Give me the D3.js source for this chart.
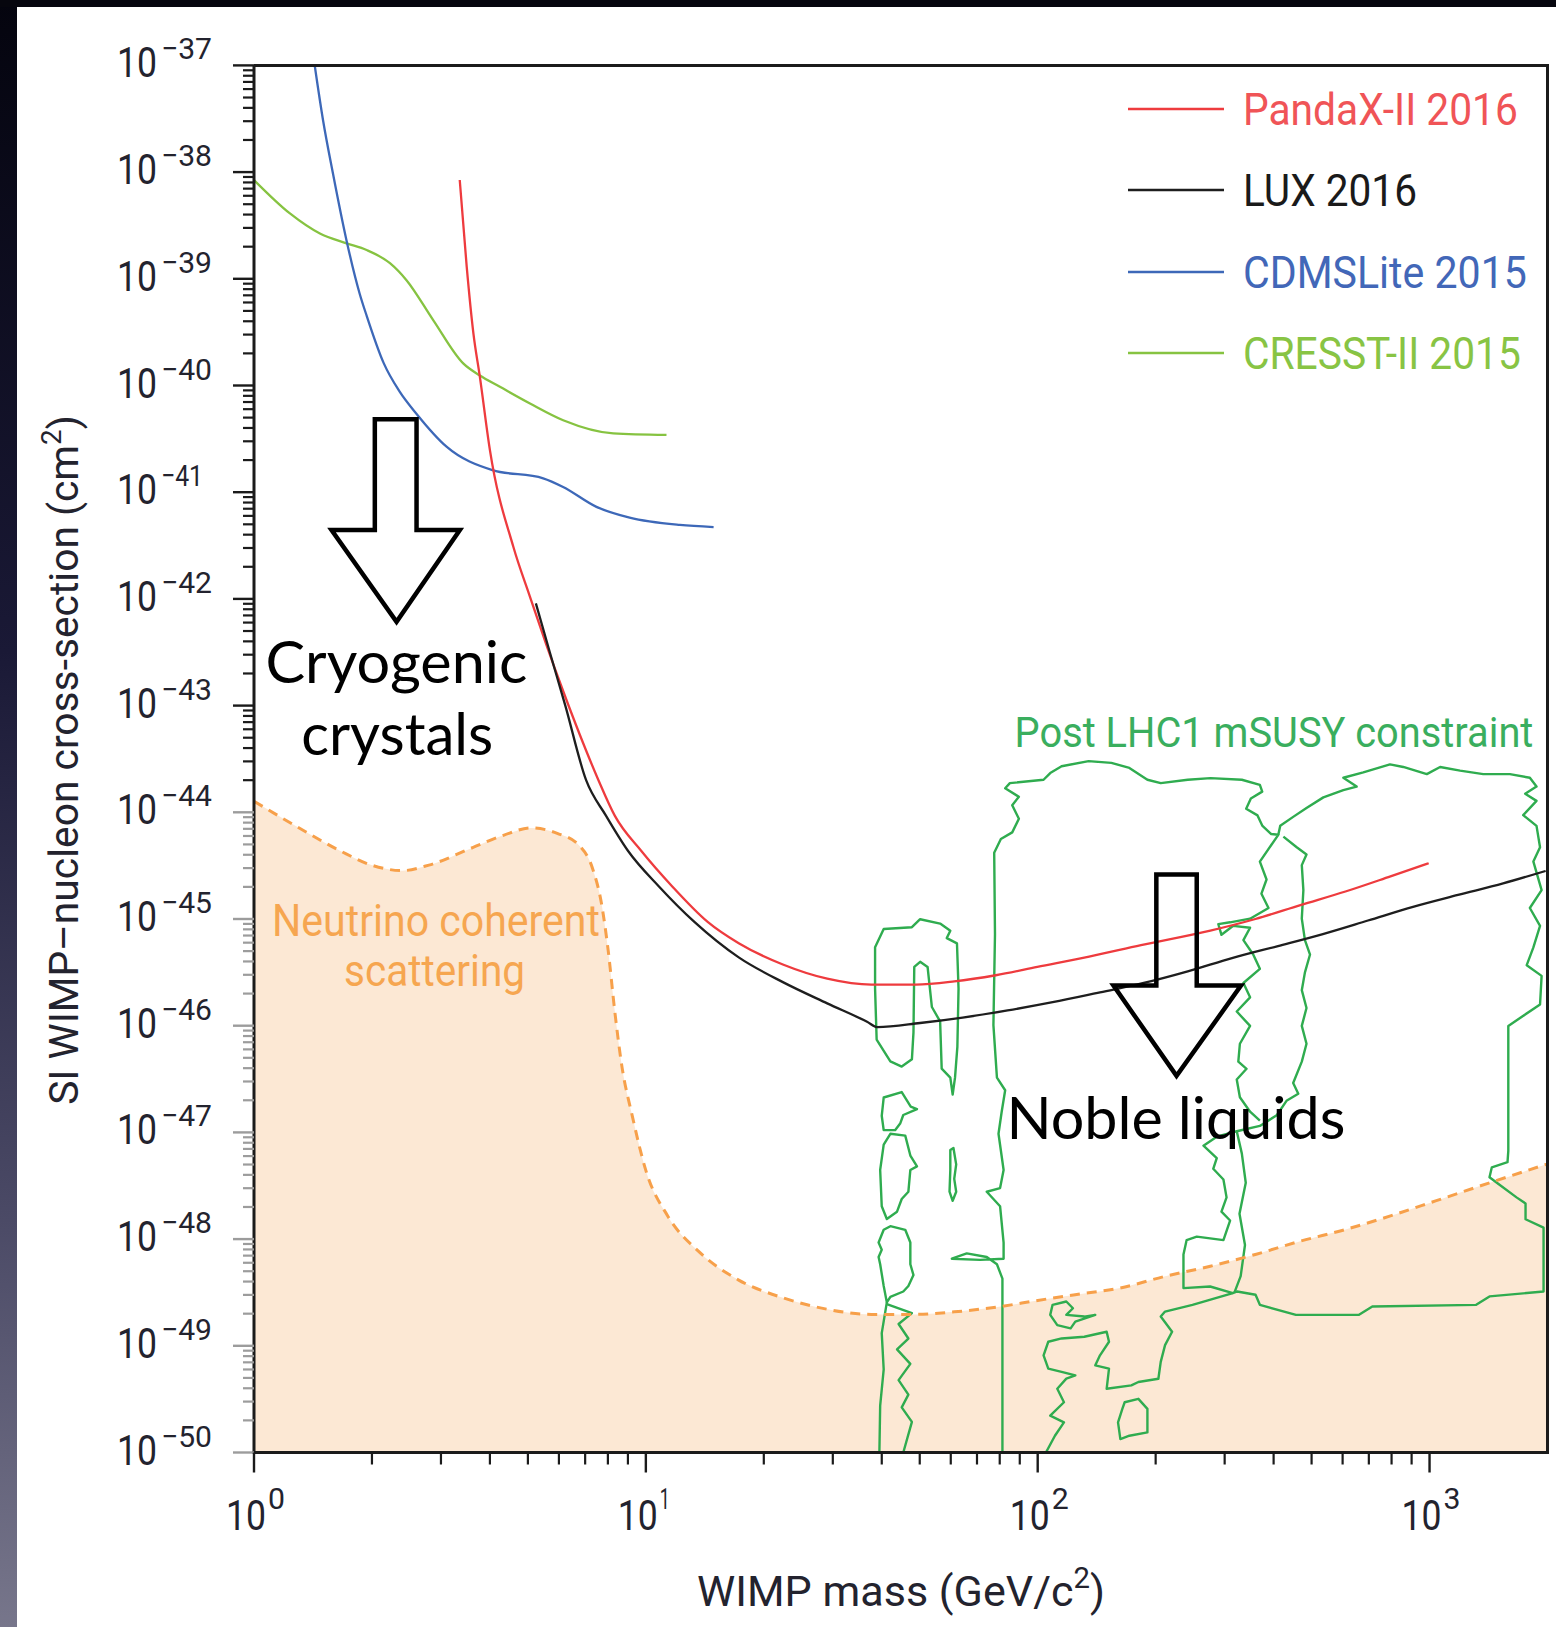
<!DOCTYPE html>
<html><head><meta charset="utf-8">
<script src="https://cdn.jsdelivr.net/npm/d3@7"></script>
<style>body{margin:0;background:#fff;}svg{display:block}</style>
</head><body>
<svg id="chart" width="1556" height="1627"></svg>
<script>
// ---------------- DATA (mass in GeV, cross-section in cm^2) ----------------
const pandaX2016 = [[3.35,8.43e-39],[3.49,1.30e-39],[3.63,3.08e-40],[3.77,1.21e-40],[4.00,2.48e-41],[4.59,3.08e-42],[5.06,1.05e-42],[5.58,3.67e-43],[6.15,1.37e-43],[6.78,5.36e-44],[7.57,2.00e-44],[8.33,9.31e-45],[9.74,4.34e-45],[11.68,2.02e-45],[14.38,9.40e-46],[17.26,5.93e-46],[22.37,3.75e-46],[29.03,2.76e-46],[37.64,2.43e-46],[48.83,2.43e-46],[61.25,2.60e-46],[78.17,2.97e-46],[99.8,3.56e-46],[135.3,4.45e-46],[183.5,5.69e-46],[275.8,7.78e-46],[359.4,1.00e-45],[468.2,1.35e-45],[610.1,1.81e-45],[794.9,2.51e-45],[995,3.33e-45]];
const lux2016 = [[5.24,9.08e-43],[5.68,3.21e-43],[6.23,1.00e-43],[7.04,2.00e-44],[7.91,9.31e-45],[9.01,4.34e-45],[10.80,2.02e-45],[13.30,9.40e-46],[17.26,4.37e-46],[22.37,2.56e-46],[29.03,1.62e-46],[36.69,1.09e-46],[39.0,9.70e-47],[50.1,1.06e-46],[64.33,1.19e-46],[83.8,1.39e-46],[109.2,1.66e-46],[142.2,2.03e-46],[185.3,2.50e-46],[241.5,3.23e-46],[314.8,4.33e-46],[410.3,5.58e-46],[534.3,7.23e-46],[696.4,9.68e-46],[907.5,1.30e-45],[1182,1.68e-45],[1541,2.16e-45],[1978,2.82e-45]];
const cdmsLite2015 = [[1.43,9.77e-38],[1.50,3.08e-38],[1.59,9.75e-39],[1.72,2.34e-39],[1.86,7.29e-40],[1.94,4.47e-40],[2.143,1.62e-40],[2.349,8.85e-41],[2.60,5.41e-41],[3.10,2.67e-41],[4.06,1.61e-41],[5.47,1.35e-41],[6.15,1.12e-41],[7.48,7.29e-42],[9.09,5.77e-42],[12.21,4.93e-42],[14.89,4.71e-42]];
const cresst2015 = [[1.0,8.43e-39],[1.235,4.10e-39],[1.473,2.66e-39],[1.723,2.15e-39],[1.938,1.86e-39],[2.223,1.40e-39],[2.45,9.70e-40],[2.866,4.10e-40],[3.419,1.61e-40],[3.771,1.24e-40],[4.242,9.73e-41],[5.062,6.79e-41],[6.152,4.73e-41],[8.258,3.56e-41],[11.29,3.44e-41]];
const neutrinoFloor = [[1.0,1.27e-44],[1.281,7.41e-45],[1.662,4.34e-45],[1.994,3.20e-45],[2.391,2.84e-45],[2.795,3.20e-45],[3.626,4.69e-45],[4.348,6.12e-45],[5.083,7.14e-45],[5.94,6.35e-45],[6.767,4.86e-45],[7.315,2.96e-45],[7.709,1.38e-45],[8.014,5.08e-46],[8.328,1.38e-46],[8.666,4.41e-47],[9.245,1.40e-47],[9.995,4.43e-48],[11.38,1.64e-48],[13.66,7.62e-49],[17.26,4.13e-49],[22.37,2.82e-49],[29.03,2.20e-49],[37.64,1.97e-49],[48.83,1.97e-49],[61.25,2.08e-49],[78.17,2.30e-49],[100,2.66e-49],[124.6,3.01e-49],[162.3,3.48e-49],[211.5,4.48e-49],[275.8,5.57e-49],[359.4,7.18e-49],[468.2,9.57e-49],[610.1,1.23e-48],[794.9,1.65e-48],[1036,2.28e-48],[1350,3.16e-48],[2000,5.06e-48]];

// Post-LHC1 mSUSY contours: [log10(mass/GeV), log10(cross-section/cm^2)]
const lhcBlobA = [[1.585,-45.264],[1.607,-45.094],[1.679,-45.077],[1.700,-45.002],[1.751,-45.043],[1.777,-45.111],[1.768,-45.179],[1.794,-45.229],[1.798,-45.653],[1.795,-46.198],[1.789,-46.487],[1.783,-46.645],[1.777,-46.487],[1.755,-46.402],[1.751,-45.960],[1.730,-45.825],[1.719,-45.449],[1.700,-45.401],[1.685,-45.449],[1.683,-46.062],[1.679,-46.315],[1.653,-46.383],[1.624,-46.334],[1.589,-46.130],[1.585,-45.653]];
const lhcBlobB1 = [[1.607,-46.673],[1.653,-46.622],[1.676,-46.758],[1.692,-46.781],[1.657,-46.837],[1.649,-46.917],[1.636,-46.979],[1.607,-46.979],[1.602,-46.844]];
const lhcBlobB2 = [[1.624,-47.013],[1.662,-47.030],[1.675,-47.217],[1.692,-47.318],[1.675,-47.352],[1.670,-47.556],[1.653,-47.624],[1.641,-47.743],[1.615,-47.811],[1.602,-47.692],[1.598,-47.352],[1.607,-47.115]];
const lhcBlobB3 = [[1.607,-47.913],[1.624,-47.879],[1.662,-47.913],[1.675,-48.032],[1.675,-48.236],[1.683,-48.337],[1.670,-48.439],[1.657,-48.491],[1.624,-48.541],[1.615,-48.593],[1.607,-48.439],[1.598,-48.236],[1.594,-48.168],[1.602,-48.100],[1.594,-48.032]];
const lhcDash = [[1.777,-47.165],[1.785,-47.146],[1.792,-47.300],[1.787,-47.435],[1.792,-47.556],[1.783,-47.641],[1.775,-47.556],[1.777,-47.352]];
const lhcLoopD1 = [[2.038,-48.616],[2.073,-48.585],[2.090,-48.648],[2.073,-48.710],[2.119,-48.726],[2.147,-48.710],[2.096,-48.773],[2.084,-48.837],[2.050,-48.806],[2.032,-48.710]];
const lhcLoopD3 = [[2.257,-49.497],[2.280,-49.591],[2.280,-49.812],[2.234,-49.843],[2.211,-49.874],[2.205,-49.718],[2.216,-49.591],[2.222,-49.529]];
const lhcStemLeft = [[1.615,-48.593],[1.602,-48.881],[1.607,-49.222],[1.598,-49.560],[1.596,-50.0]];
const lhcStemZigzag = [[1.615,-48.609],[1.679,-48.694],[1.645,-48.796],[1.670,-48.932],[1.641,-49.034],[1.675,-49.169],[1.645,-49.322],[1.670,-49.458],[1.653,-49.577],[1.679,-49.713],[1.657,-50.0]];
const lhcBandWest = [[1.910,-50.0],[1.910,-48.371],[1.896,-48.236],[1.870,-48.168],[1.819,-48.134],[1.781,-48.184],[1.853,-48.195],[1.913,-48.184],[1.913,-48.032],[1.904,-47.692],[1.870,-47.556],[1.904,-47.522],[1.913,-47.352],[1.900,-47.013],[1.908,-46.809],[1.917,-46.605],[1.896,-46.487],[1.887,-45.994],[1.891,-45.145],[1.889,-44.379],[1.906,-44.251],[1.935,-44.188],[1.952,-44.061],[1.935,-43.933],[1.952,-43.855],[1.917,-43.775],[1.929,-43.727],[2.015,-43.695],[2.032,-43.632],[2.061,-43.568],[2.130,-43.520],[2.188,-43.537],[2.234,-43.584],[2.280,-43.695],[2.314,-43.727],[2.383,-43.695],[2.441,-43.680],[2.521,-43.695],[2.567,-43.743],[2.573,-43.806],[2.544,-43.870],[2.532,-43.966],[2.561,-44.029],[2.573,-44.124],[2.596,-44.204],[2.614,-44.211],[2.567,-44.462],[2.584,-44.630],[2.571,-44.763],[2.589,-44.897],[2.542,-44.997],[2.491,-45.031],[2.461,-45.048],[2.469,-45.148],[2.499,-45.064],[2.542,-45.082],[2.525,-45.198],[2.550,-45.333],[2.567,-45.467],[2.525,-45.600],[2.542,-45.734],[2.508,-45.867],[2.542,-46.002],[2.516,-46.169],[2.512,-46.337],[2.533,-46.404],[2.508,-46.504],[2.516,-46.671],[2.542,-46.806],[2.567,-46.889]];
const lhcBandEast = [[2.614,-44.211],[2.619,-44.127],[2.652,-44.043],[2.686,-43.960],[2.729,-43.860],[2.780,-43.792],[2.814,-43.759],[2.780,-43.676],[2.831,-43.625],[2.899,-43.551],[2.933,-43.575],[2.993,-43.642],[3.027,-43.575],[3.078,-43.609],[3.137,-43.642],[3.205,-43.642],[3.256,-43.676],[3.273,-43.759],[3.244,-43.826],[3.273,-43.893],[3.239,-44.027],[3.273,-44.127],[3.282,-44.328],[3.265,-44.462],[3.286,-44.730],[3.256,-44.897],[3.282,-45.064],[3.265,-45.266],[3.248,-45.433],[3.286,-45.533],[3.282,-45.801],[3.201,-46.002],[3.201,-46.671],[3.201,-47.173],[3.199,-47.279],[3.159,-47.327],[3.153,-47.421],[3.176,-47.484],[3.222,-47.609],[3.245,-47.666],[3.245,-47.814],[3.291,-47.893],[3.291,-48.491],[3.153,-48.537],[3.119,-48.616],[2.854,-48.632],[2.820,-48.710],[2.659,-48.710],[2.567,-48.616],[2.556,-48.522],[2.509,-48.491],[2.498,-48.506],[2.395,-48.616],[2.325,-48.679],[2.314,-48.726],[2.343,-48.868],[2.325,-48.994],[2.314,-49.151],[2.308,-49.309],[2.257,-49.339],[2.239,-49.371],[2.176,-49.403],[2.182,-49.214],[2.147,-49.183],[2.159,-49.089],[2.182,-48.962],[2.176,-48.868],[2.119,-48.915],[2.061,-48.931],[2.027,-48.962],[2.015,-49.089],[2.027,-49.214],[2.061,-49.245],[2.096,-49.277],[2.073,-49.308],[2.050,-49.403],[2.067,-49.529],[2.032,-49.654],[2.067,-49.718],[2.044,-49.843],[2.021,-50.0]];
const lhcBandInner = [[2.627,-44.228],[2.661,-44.328],[2.686,-44.395],[2.674,-44.495],[2.678,-44.730],[2.674,-44.997],[2.682,-45.198],[2.695,-45.333],[2.682,-45.500],[2.674,-45.667],[2.686,-45.834],[2.674,-46.002],[2.686,-46.169],[2.674,-46.337],[2.652,-46.537],[2.665,-46.638],[2.635,-46.704],[2.610,-46.839],[2.567,-46.939],[2.508,-46.989],[2.457,-47.040],[2.423,-47.124],[2.457,-47.240],[2.448,-47.341],[2.474,-47.441],[2.482,-47.609],[2.469,-47.743],[2.491,-47.826],[2.474,-48.010],[2.406,-47.977],[2.380,-48.010],[2.372,-48.144],[2.372,-48.459],[2.440,-48.444],[2.498,-48.506]];
const lhcInnerRight = [[2.508,-46.989],[2.521,-47.199],[2.531,-47.472],[2.515,-47.763],[2.529,-48.055],[2.518,-48.347],[2.502,-48.502]];
const lhcClosed = [lhcBlobA, lhcBlobB1, lhcBlobB2, lhcBlobB3, lhcDash, lhcLoopD1, lhcLoopD3];
const lhcOpen = [lhcStemLeft, lhcStemZigzag, lhcBandWest, lhcBandEast, lhcBandInner, lhcInnerRight];

const xTickExponents = [0, 1, 2, 3];
const yTickExponents = [-37,-38,-39,-40,-41,-42,-43,-44,-45,-46,-47,-48,-49,-50];
const legendNames = ['PandaX-II 2016', 'LUX 2016', 'CDMSLite 2015', 'CRESST-II 2015'];

// Arrow annotations (mass in GeV, log10 cross-section)
const arrowCryogenic = {shaftLeft:2.034, shaftRight:2.599, headLeft:1.577, headRight:3.352, tipMass:2.311, top:-40.317, neck:-41.355, tip:-42.214};
const arrowNoble = {shaftLeft:200.8, shaftRight:254.6, headLeft:156.1, headRight:330.2, tipMass:226.1, top:-44.584, neck:-45.624, tip:-46.470};

// ---------------- DRAWING ----------------
const W = 1556, H = 1627;
const M = {left:254, top:65.4, right:1547.5, bottom:1452.5};
const svg = d3.select('#chart');
const x = d3.scaleLog().domain([1, 2000]).range([M.left, M.right]);
const y = d3.scaleLog().domain([1e-50, 1e-37]).range([M.bottom, M.top]);

const defs = svg.append('defs');
const grad = defs.append('linearGradient').attr('id','edge').attr('x1',0).attr('y1',0).attr('x2',0).attr('y2',1);
grad.append('stop').attr('offset','0%').attr('stop-color','#04040e');
grad.append('stop').attr('offset','40%').attr('stop-color','#1a1936');
grad.append('stop').attr('offset','75%').attr('stop-color','#4b4a66');
grad.append('stop').attr('offset','100%').attr('stop-color','#77768b');
defs.append('clipPath').attr('id','plotClip').append('rect')
  .attr('x', M.left).attr('y', M.top).attr('width', M.right - M.left).attr('height', M.bottom - M.top);

svg.append('rect').attr('width', W).attr('height', H).attr('fill', '#fff');
svg.append('rect').attr('width', 17).attr('height', H).attr('fill', 'url(#edge)');
svg.append('rect').attr('width', W).attr('height', 7).attr('fill', '#06060e');

const plot = svg.append('g').attr('clip-path', 'url(#plotClip)');

// neutrino floor fill
const area = d3.area().x(d => x(d[0])).y0(y(1e-50)).y1(d => y(d[1])).curve(d3.curveMonotoneX);
plot.append('path').datum(neutrinoFloor).attr('d', area).attr('fill', '#fce8d4');

// LHC contours
const GREEN = '#2fac4f';
const openLine = d3.line().x(d => x(Math.pow(10, d[0]))).y(d => y(Math.pow(10, d[1])));
const closedLine = d3.line().x(d => x(Math.pow(10, d[0]))).y(d => y(Math.pow(10, d[1]))).curve(d3.curveLinearClosed);
lhcClosed.forEach(c => plot.append('path').attr('d', closedLine(c)).attr('fill','none').attr('stroke',GREEN).attr('stroke-width',2.4).attr('stroke-linejoin','round'));
lhcOpen.forEach(c => plot.append('path').attr('d', openLine(c)).attr('fill','none').attr('stroke',GREEN).attr('stroke-width',2.4).attr('stroke-linejoin','round'));

// neutrino dashed boundary
const curve = d3.line().x(d => x(d[0])).y(d => y(d[1])).curve(d3.curveMonotoneX);
plot.append('path').attr('d', curve(neutrinoFloor)).attr('fill','none').attr('stroke','#f7a04a').attr('stroke-width',3).attr('stroke-dasharray','10,7');

// experiment curves
const series = [
  {data: cresst2015, color:'#86c341'},
  {data: cdmsLite2015, color:'#3d68b8'},
  {data: pandaX2016, color:'#ee3b3e'},
  {data: lux2016, color:'#1e1e1e'}
];
series.forEach(s => plot.append('path').attr('d', curve(s.data)).attr('fill','none').attr('stroke', s.color).attr('stroke-width', 2.3));

// frame & axes
const FRAME = '#1b1b1b';
const ax = svg.append('g');
ax.append('line').attr('x1',M.left).attr('x2',M.left).attr('y1',M.top).attr('y2',M.bottom).attr('stroke',FRAME).attr('stroke-width',3);
ax.append('line').attr('x1',M.left-1.5).attr('x2',M.right+1.5).attr('y1',M.bottom).attr('y2',M.bottom).attr('stroke',FRAME).attr('stroke-width',3);
ax.append('line').attr('x1',M.left).attr('x2',M.right+1.5).attr('y1',M.top).attr('y2',M.top).attr('stroke',FRAME).attr('stroke-width',3);
ax.append('line').attr('x1',M.right).attr('x2',M.right).attr('y1',M.top).attr('y2',M.bottom).attr('stroke',FRAME).attr('stroke-width',3);

// y ticks
const yMinor = [];
for (let e = -50; e <= -38; e++) for (let k = 2; k <= 9; k++) yMinor.push(k * Math.pow(10, e));
const tickColor = v => v <= 1.3e-44 ? '#9c9c9c' : FRAME;
yMinor.forEach(v => ax.append('line').attr('x1', M.left - 11).attr('x2', M.left).attr('y1', y(v)).attr('y2', y(v)).attr('stroke', tickColor(v)).attr('stroke-width', 2.2));
yTickExponents.forEach(e => { const v = Math.pow(10, e); ax.append('line').attr('x1', M.left - 21).attr('x2', M.left).attr('y1', y(v)).attr('y2', y(v)).attr('stroke', e === -37 ? FRAME : tickColor(v)).attr('stroke-width', 2.4); });

// x ticks
const xMinor = [];
for (let d = 0; d <= 2; d++) for (let k = 2; k <= 9; k++) xMinor.push(k * Math.pow(10, d));
xMinor.forEach(v => ax.append('line').attr('x1', x(v)).attr('x2', x(v)).attr('y1', M.bottom).attr('y2', M.bottom + 12).attr('stroke', FRAME).attr('stroke-width', 2.2));
xTickExponents.forEach(d => { const v = Math.pow(10, d); ax.append('line').attr('x1', x(v)).attr('x2', x(v)).attr('y1', M.bottom).attr('y2', M.bottom + 20).attr('stroke', FRAME).attr('stroke-width', 2.4); });

// text helper: draws text at (tx,ty) and squeezes horizontally to a target width
function addText(parent, opts) {
  const g = parent.append('g').attr('transform', `translate(${opts.x},${opts.y}) rotate(${opts.rotate || 0})`);
  const t = g.append('text').attr('text-anchor', opts.anchor || 'start')
    .attr('font-family', opts.family || 'Roboto, "Noto Sans", sans-serif')
    .attr('font-size', opts.size).attr('fill', opts.color || '#222');
  let raised = false;
  (opts.parts || [[opts.text, false]]).forEach(([str, sup]) => {
    if (sup) { t.append('tspan').attr('font-size', opts.size * 0.68).attr('dy', -opts.size * 0.42).text(str); raised = true; }
    else { t.append('tspan').attr('dy', raised ? opts.size * 0.42 : 0).text(str); raised = false; }
  });
  if (opts.width) {
    const w = t.node().getBBox().width;
    if (w > 0) t.attr('transform', `scale(${opts.width / w},1)`);
  }
  return t;
}

const lab = svg.append('g');
const TICKCOL = '#23232e';
yTickExponents.forEach(e => {
  const yy = y(Math.pow(10, e));
  addText(lab, {x: 157, y: yy + 12, anchor: 'end', size: 42, text: '10', width: 40, color: TICKCOL});
  const s = '\u2212' + (-e);
  const ones = (s.match(/1/g) || []).length;
  addText(lab, {x: 161, y: yy - 6, anchor: 'start', size: 30, text: s, width: 51 - ones * 9, color: TICKCOL});
});
xTickExponents.forEach(d => {
  const xx = x(Math.pow(10, d));
  addText(lab, {x: xx + 12, y: 1530, anchor: 'end', size: 42, text: '10', width: 40, color: TICKCOL});
  addText(lab, {x: xx + 14, y: 1509, anchor: 'start', size: 30, text: String(d), width: d === 1 ? 10 : 17, color: TICKCOL});
});

// axis titles
addText(lab, {x: 901, y: 1606, anchor: 'middle', size: 42, parts: [['WIMP mass (GeV/c', false], ['2', true], [')', false]], width: 408, color: TICKCOL});
addText(lab, {x: 78, y: 760, rotate: -90, anchor: 'middle', size: 40, parts: [['SI WIMP\u2013nucleon cross-section (cm', false], ['2', true], [')', false]], width: 690, color: TICKCOL});

// legend
const legendColors = ['#ee3b3e', '#1e1e1e', '#3d68b8', '#86c341'];
const legendTextColors = ['#f05457', '#1a1a1a', '#4267b8', '#88c444'];
const legendWidths = [275, 174, 284, 278];
const legendY = [109, 190, 272, 353];
legendNames.forEach((n, i) => {
  lab.append('line').attr('x1', 1128).attr('x2', 1224).attr('y1', legendY[i]).attr('y2', legendY[i]).attr('stroke', legendColors[i]).attr('stroke-width', 2.4);
  addText(lab, {x: 1243, y: legendY[i] + 16, size: 45, text: n, width: legendWidths[i], color: legendTextColors[i]});
});

// region labels
addText(lab, {x: x(2.914), y: y(Math.pow(10, -45.159)), anchor: 'middle', size: 45, text: 'Neutrino coherent', width: 328, color: '#f6a650'});
addText(lab, {x: x(2.89), y: y(Math.pow(10, -45.628)), anchor: 'middle', size: 45, text: 'scattering', width: 181, color: '#f6a650'});
addText(lab, {x: x(400.9), y: y(Math.pow(10, -43.387)), anchor: 'middle', size: 43, text: 'Post LHC1 mSUSY constraint', width: 519, color: '#3aae5e'});

// arrows
function drawArrow(a) {
  const p = d3.path();
  const sx1 = x(a.shaftLeft), sx2 = x(a.shaftRight), hx1 = x(a.headLeft), hx2 = x(a.headRight), tx = x(a.tipMass);
  const yt = y(Math.pow(10, a.top)), yn = y(Math.pow(10, a.neck)), yp = y(Math.pow(10, a.tip));
  p.moveTo(sx1, yt); p.lineTo(sx2, yt); p.lineTo(sx2, yn); p.lineTo(hx2, yn); p.lineTo(tx, yp); p.lineTo(hx1, yn); p.lineTo(sx1, yn); p.closePath();
  svg.append('path').attr('d', p.toString()).attr('fill', 'none').attr('stroke', '#000').attr('stroke-width', 4.5).attr('stroke-linejoin', 'miter');
}
drawArrow(arrowCryogenic);
drawArrow(arrowNoble);

const GILL = 'Lato, "Open Sans", sans-serif';
addText(svg, {x: x(2.31), y: y(Math.pow(10, -42.785)), anchor: 'middle', size: 58, family: GILL, text: 'Cryogenic', width: 262, color: '#000'});
addText(svg, {x: x(2.32), y: y(Math.pow(10, -43.466)), anchor: 'middle', size: 58, family: GILL, text: 'crystals', width: 192, color: '#000'});
addText(svg, {x: x(225.2), y: y(Math.pow(10, -47.062)), anchor: 'middle', size: 58, family: GILL, text: 'Noble liquids', width: 339, color: '#000'});
</script>
</body></html>
